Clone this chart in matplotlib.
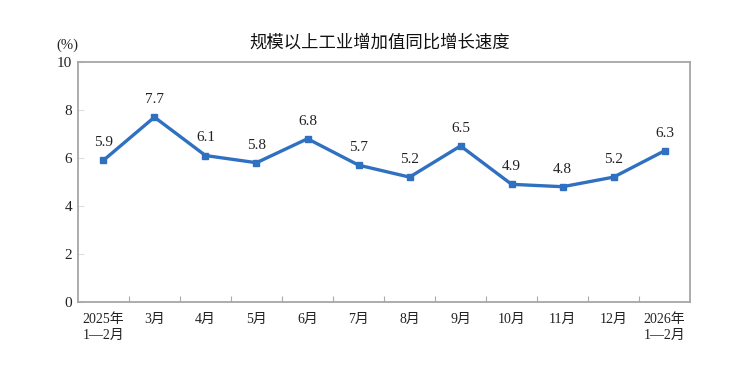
import matplotlib.pyplot as plt
import numpy as np

months = ['2025年\n1—2月', '3月', '4月', '5月', '6月', '7月', '8月', '9月',
          '10月', '11月', '12月', '2026年\n1—2月']
growth = [5.9, 7.7, 6.1, 5.8, 6.8, 5.7, 5.2, 6.5, 4.9, 4.8, 5.2, 6.3]
yticks = [0, 2, 4, 6, 8, 10]

serif = ['Liberation Serif', 'Noto Sans CJK SC']
sans = ['Noto Sans CJK SC', 'DejaVu Sans']


def main():
    fig = plt.figure(figsize=(7.35, 3.69), dpi=100)
    ax = fig.add_axes([0.106, 0.182, 0.833, 0.650])

    x = np.arange(len(months))
    line_color = '#3070c0'
    ax.plot(x, growth, color=line_color, lw=2.4, marker='s', ms=5,
            markerfacecolor=line_color, markeredgecolor=line_color)

    for xi, v in zip(x, growth):
        ax.annotate(f'{v:.1f}', (xi, v), xytext=(0, 8), textcoords='offset points',
                    ha='center', va='bottom', fontsize=11, family=serif, color='#222222')

    ax.set_xlim(-0.5, len(months) - 0.5)
    ax.set_ylim(0, 10)

    # category ticks sit between the points
    ax.set_xticks(np.arange(0.5, len(months) - 1, 1.0))
    ax.set_xticklabels([])
    ax.tick_params(axis='x', which='major', direction='in', length=4, color='#aaaaaa')
    ax.set_xticks(x, minor=True)
    ax.set_xticklabels(months, minor=True, family=serif, fontsize=10, color='#222222')
    ax.tick_params(axis='x', which='minor', length=0, pad=8)
    for lab in ax.get_xticklabels(minor=True):
        lab.set_multialignment('left')
        lab.set_linespacing(1.3)

    ax.set_yticks(yticks)
    ax.set_yticklabels([str(t) for t in yticks], family=serif, fontsize=11, color='#222222')
    ax.tick_params(axis='y', direction='in', length=4, color='#dddddd', pad=4)

    for s in ax.spines.values():
        s.set_color('#a6a6a6')
        s.set_linewidth(1.3)

    fig.text(0.517, 0.885, '规模以上工业增加值同比增长速度', ha='center', va='center',
             fontsize=12.5, family=sans, color='#111111')
    fig.text(0.091, 0.878, '(%)', ha='center', va='center', fontsize=10.5,
             family=serif, color='#222222')

    fig.savefig('out.png', dpi=100)


if __name__ == "__main__":
    main()
